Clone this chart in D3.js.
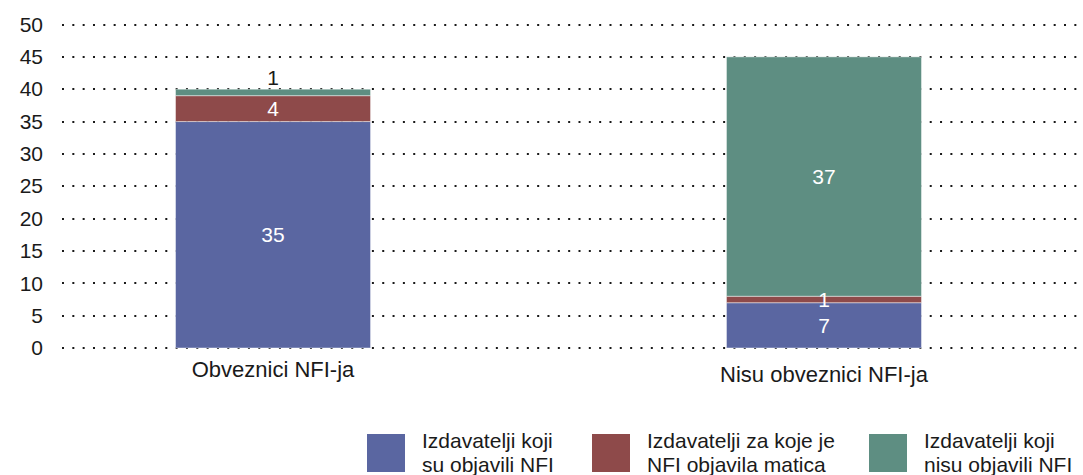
<!DOCTYPE html>
<html>
<head>
<meta charset="utf-8">
<script src="https://cdn.jsdelivr.net/npm/d3@7"></script>
<style>
  html, body { margin: 0; padding: 0; background: #fff; }
  svg { display: block; font-family: "Liberation Sans", Arial, Helvetica, sans-serif; }
</style>
</head>
<body>
<svg id="chart" width="1083" height="475"></svg>
<script>
// ---- data ----
const categories = ["Obveznici NFI-ja", "Nisu obveznici NFI-ja"];
const seriesNames = ["Izdavatelji koji su objavili NFI", "Izdavatelji za koje je NFI objavila matica", "Izdavatelji koji nisu objavili NFI"];
const legendLines = [["Izdavatelji koji", "su objavili NFI"], ["Izdavatelji za koje je", "NFI objavila matica"], ["Izdavatelji koji", "nisu objavili NFI"]];
const publishedNFI = [35, 7];
const parentPublishedNFI = [4, 1];
const notPublishedNFI = [1, 37];
const yTicks = [0, 5, 10, 15, 20, 25, 30, 35, 40, 45, 50];
const colors = ["#5a66a1", "#8e4a4a", "#5e8e82"];

// ---- setup ----
const svg = d3.select("#chart");
const gridLeft = 62, gridRight = 1080;
const y = d3.scaleLinear().domain([0, 50]).range([348, 24.5]);
const x = d3.scaleBand().domain(categories).range([62, 1035]).paddingInner(0.646).paddingOuter(0.206);

const rows = categories.map((c, i) => ({
  cat: c,
  s0: publishedNFI[i], s1: parentPublishedNFI[i], s2: notPublishedNFI[i]
}));
const stack = d3.stack().keys(["s0", "s1", "s2"]);
const stacked = stack(rows);

// gridlines
const grid = svg.append("g");
grid.selectAll("line").data(yTicks).join("line")
  .attr("x1", gridLeft).attr("x2", gridRight)
  .attr("y1", d => Math.round(y(d))).attr("y2", d => Math.round(y(d)))
  .attr("stroke", "#1a1a1a").attr("stroke-width", 2)
  .attr("stroke-dasharray", "2 8.33");

// y axis labels
const yAxis = d3.axisLeft(y).tickValues(yTicks).tickSize(0).tickPadding(0);
const yg = svg.append("g").attr("transform", "translate(43,0)").call(yAxis);
yg.select(".domain").remove();
yg.selectAll("text").attr("font-size", 21).attr("fill", "#1a1a1a")
  .attr("font-family", "'Liberation Sans', Arial, sans-serif");

// bars
const layers = svg.append("g").selectAll("g").data(stacked).join("g")
  .attr("fill", (d, i) => colors[i]);
layers.selectAll("rect").data(d => d).join("rect")
  .attr("x", d => x(d.data.cat))
  .attr("width", x.bandwidth())
  .attr("y", d => y(d[1]))
  .attr("height", d => y(d[0]) - y(d[1]))
  .attr("stroke", "rgba(255,255,255,0.45)").attr("stroke-width", 1);

// value labels
const labels = [];
stacked.forEach((layer, li) => {
  layer.forEach((d, ci) => {
    const v = d[1] - d[0];
    const h = y(d[0]) - y(d[1]);
    const isTop = li === stacked.length - 1;
    const outside = isTop && h < 16;
    labels.push({
      v, x: x(d.data.cat) + x.bandwidth() / 2,
      y: outside ? y(d[1]) - 4 : (y(d[0]) + y(d[1])) / 2,
      outside
    });
  });
});
svg.append("g").selectAll("text").data(labels).join("text")
  .attr("x", d => d.x).attr("y", d => d.y)
  .attr("dy", d => d.outside ? 0 : "0.35em")
  .attr("text-anchor", "middle")
  .attr("font-size", 21)
  .attr("fill", d => d.outside ? "#1a1a1a" : "#ffffff")
  .text(d => d.v);

// category labels
const catOffsets = [377, 382];
svg.append("g").selectAll("text").data(categories).join("text")
  .attr("x", d => x(d) + x.bandwidth() / 2)
  .attr("y", (d, i) => catOffsets[i])
  .attr("text-anchor", "middle")
  .attr("font-size", 22)
  .attr("fill", "#1a1a1a")
  .text(d => d);

// legend
const legendX = [367, 592, 869];
const lg = svg.append("g").selectAll("g").data(seriesNames).join("g")
  .attr("transform", (d, i) => `translate(${legendX[i]},434)`);
lg.append("rect").attr("width", 38).attr("height", 38).attr("fill", (d, i) => colors[i]);
lg.each(function(d, i) {
  const t = d3.select(this).append("text").attr("x", 55).attr("font-size", 21).attr("fill", "#1a1a1a");
  legendLines[i].forEach((line, j) => {
    t.append("tspan").attr("x", 55).attr("y", 14 + j * 24).text(line);
  });
});
</script>
</body>
</html>
